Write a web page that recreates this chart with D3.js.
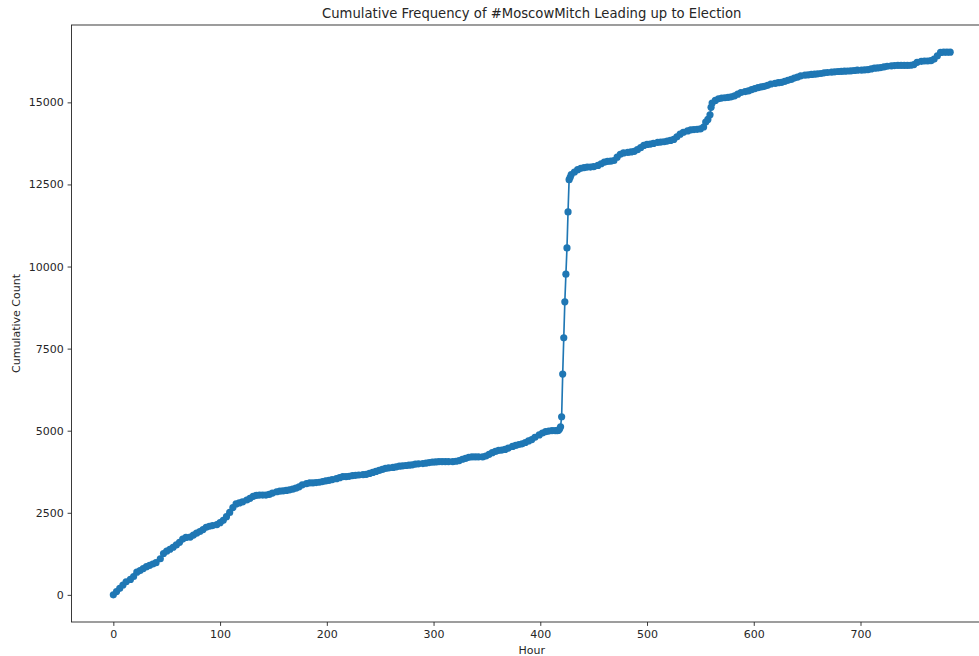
<!DOCTYPE html>
<html>
<head>
<meta charset="utf-8">
<script src="https://cdn.jsdelivr.net/npm/d3@7"></script>
<style>
  html, body { margin: 0; padding: 0; background: #fff; }
  svg { display: block; font-family: "DejaVu Sans", sans-serif; }
</style>
</head>
<body>
<svg id="chart" width="979" height="656"></svg>
<script>
// Hours since tracking began
const hours = [
  0, 3, 6, 9, 12, 16, 19, 22, 25, 28, 31, 34, 37, 40, 44, 47, 50, 53, 56, 59,
  62, 65, 68, 72, 75, 78, 81, 84, 87, 90, 93, 97, 100, 103, 106, 109, 112, 115, 118, 121,
  125, 128, 131, 134, 137, 140, 143, 146, 149, 153, 156, 159, 162, 165, 168, 171, 174, 177, 181, 184,
  187, 190, 193, 196, 199, 202, 205, 209, 212, 215, 218, 221, 224, 227, 230, 234, 237, 240, 243, 246,
  249, 252, 255, 258, 262, 265, 268, 271, 274, 277, 280, 283, 286, 290, 293, 296, 299, 302, 305, 308,
  311, 314, 318, 321, 324, 327, 330, 333, 336, 339, 342, 346, 349, 352, 355, 358, 361, 364, 367, 370,
  374, 377, 380, 383, 386, 389, 392, 395, 399, 402, 405, 408, 411, 414, 416, 417, 418, 419, 420, 421,
  422, 423, 424, 425, 426, 427, 428, 429, 432, 435, 438, 441, 444, 447, 450, 454, 457, 460, 463, 466,
  469, 472, 475, 478, 482, 485, 488, 491, 494, 497, 500, 503, 506, 510, 513, 516, 519, 522, 525, 528,
  531, 534, 538, 541, 544, 547, 550, 553, 555, 557, 559, 560, 561, 564, 567, 570, 573, 576, 579, 582,
  585, 588, 592, 595, 598, 601, 604, 607, 610, 613, 616, 620, 623, 626, 629, 632, 635, 638, 641, 644,
  648, 651, 654, 657, 660, 663, 666, 669, 673, 676, 679, 682, 685, 688, 691, 694, 697, 701, 704, 707,
  710, 713, 716, 719, 722, 725, 729, 732, 735, 738, 741, 744, 747, 750, 753, 757, 760, 763, 766, 769,
  772, 775, 778, 781, 784
];

// Running total of #MoscowMitch posts at each hour
const counts = [
  0, 100, 200, 300, 400, 470, 560, 690, 740, 800, 860, 900, 940, 980, 1100, 1260, 1330, 1390, 1450, 1520,
  1600, 1700, 1750, 1760, 1820, 1880, 1930, 1990, 2060, 2090, 2110, 2140, 2200, 2270, 2380, 2510, 2660, 2770, 2800, 2830,
  2890, 2940, 3000, 3030, 3040, 3040, 3040, 3060, 3100, 3140, 3160, 3170, 3180, 3200, 3220, 3250, 3290, 3350, 3390, 3410,
  3410, 3420, 3430, 3450, 3470, 3490, 3510, 3540, 3570, 3600, 3600, 3610, 3630, 3640, 3650, 3660, 3670, 3700, 3730, 3760,
  3790, 3820, 3850, 3870, 3880, 3900, 3920, 3930, 3940, 3950, 3960, 3980, 3990, 4000, 4010, 4030, 4040, 4050, 4060, 4060,
  4060, 4060, 4060, 4070, 4090, 4130, 4160, 4190, 4200, 4200, 4200, 4200, 4230, 4280, 4330, 4370, 4400, 4410, 4430, 4470,
  4520, 4550, 4580, 4600, 4640, 4690, 4730, 4800, 4870, 4930, 4970, 4990, 5000, 5000, 5000, 5010, 5050, 5120, 5425, 6724,
  7830, 8925, 9767, 10567, 11663, 12647, 12720, 12800, 12880, 12950, 12990, 13010, 13030, 13030, 13040, 13080, 13130, 13180, 13200, 13210,
  13230, 13330, 13420, 13460, 13480, 13490, 13510, 13560, 13620, 13690, 13720, 13730, 13750, 13780, 13790, 13800, 13820, 13840, 13870, 13950,
  14030, 14090, 14130, 14160, 14170, 14180, 14190, 14250, 14400, 14480, 14620, 14850, 14980, 15060, 15110, 15130, 15140, 15150, 15170, 15200,
  15250, 15300, 15330, 15350, 15390, 15420, 15450, 15470, 15490, 15520, 15560, 15580, 15600, 15610, 15640, 15670, 15700, 15740, 15770, 15810,
  15830, 15840, 15850, 15860, 15870, 15880, 15900, 15910, 15920, 15930, 15940, 15945, 15950, 15955, 15960, 15970, 15980, 15985, 15990, 16000,
  16020, 16040, 16050, 16060, 16080, 16100, 16110, 16120, 16125, 16125, 16125, 16125, 16130, 16150, 16220, 16250, 16260, 16260, 16270, 16320,
  16420, 16520, 16530, 16530, 16530
];

const xTicks = [0, 100, 200, 300, 400, 500, 600, 700];
const yTicks = [0, 2500, 5000, 7500, 10000, 12500, 15000];

const titleText = "Cumulative Frequency of #MoscowMitch Leading up to Election";
const xLabelText = "Hour";
const yLabelText = "Cumulative Count";

const points = hours.map((h, i) => ({ hour: h, count: counts[i] }));

const svg = d3.select("#chart");
const plot = { left: 71.5, right: 992, top: 25, bottom: 622 };
const color = "#1f77b4";
const ink = "#262626";

// Axis limits padded by 5% of the data span on each side
const xExt = d3.extent(hours);
const xPad = (xExt[1] - xExt[0]) * 0.05;
const yExt = d3.extent(counts);
const yPad = (yExt[1] - yExt[0]) * 0.05;

const x = d3.scaleLinear()
  .domain([xExt[0] - xPad, xExt[1] + xPad])
  .range([plot.left, plot.right]);
const y = d3.scaleLinear()
  .domain([yExt[0] - yPad, yExt[1] + yPad])
  .range([plot.bottom, plot.top]);

// Axes
const xAxis = d3.axisBottom(x).tickValues(xTicks).tickSize(3.9).tickPadding(3.9).tickFormat(d3.format("d"));
const yAxis = d3.axisLeft(y).tickValues(yTicks).tickSize(3.9).tickPadding(3.9).tickFormat(d3.format("d"));

const gx = svg.append("g").attr("transform", `translate(0,${plot.bottom})`).call(xAxis);
const gy = svg.append("g").attr("transform", `translate(${plot.left},0)`).call(yAxis);

[gx, gy].forEach(g => {
  g.select(".domain").remove();
  g.selectAll(".tick line").attr("stroke", ink).attr("stroke-width", 0.9);
  g.selectAll(".tick text").attr("fill", ink).style("font-size", "11px").style("font-family", "DejaVu Sans");
});

// Spines
svg.append("rect")
  .attr("x", plot.left).attr("y", plot.top)
  .attr("width", plot.right - plot.left).attr("height", plot.bottom - plot.top)
  .attr("fill", "none").attr("stroke", ink).attr("stroke-width", 0.9);

// Series line and markers
const line = d3.line().x(d => x(d.hour)).y(d => y(d.count));
svg.append("path")
  .datum(points)
  .attr("d", line)
  .attr("fill", "none")
  .attr("stroke", color)
  .attr("stroke-width", 1.65)
  .attr("stroke-linejoin", "round");

svg.append("g").selectAll("circle")
  .data(points)
  .join("circle")
  .attr("cx", d => x(d.hour))
  .attr("cy", d => y(d.count))
  .attr("r", 3.6)
  .attr("fill", color);

// Title and axis labels
svg.append("text")
  .attr("x", (plot.left + plot.right) / 2)
  .attr("y", plot.top - 6.6)
  .attr("text-anchor", "middle")
  .style("font-size", "13.2px")
  .attr("fill", ink)
  .text(titleText);

svg.append("text")
  .attr("x", (plot.left + plot.right) / 2)
  .attr("y", 654)
  .attr("text-anchor", "middle")
  .style("font-size", "11px")
  .attr("fill", ink)
  .text(xLabelText);

svg.append("text")
  .attr("transform", `translate(20,${(plot.top + plot.bottom) / 2}) rotate(-90)`)
  .attr("text-anchor", "middle")
  .style("font-size", "11px")
  .attr("fill", ink)
  .text(yLabelText);
</script>
</body>
</html>
